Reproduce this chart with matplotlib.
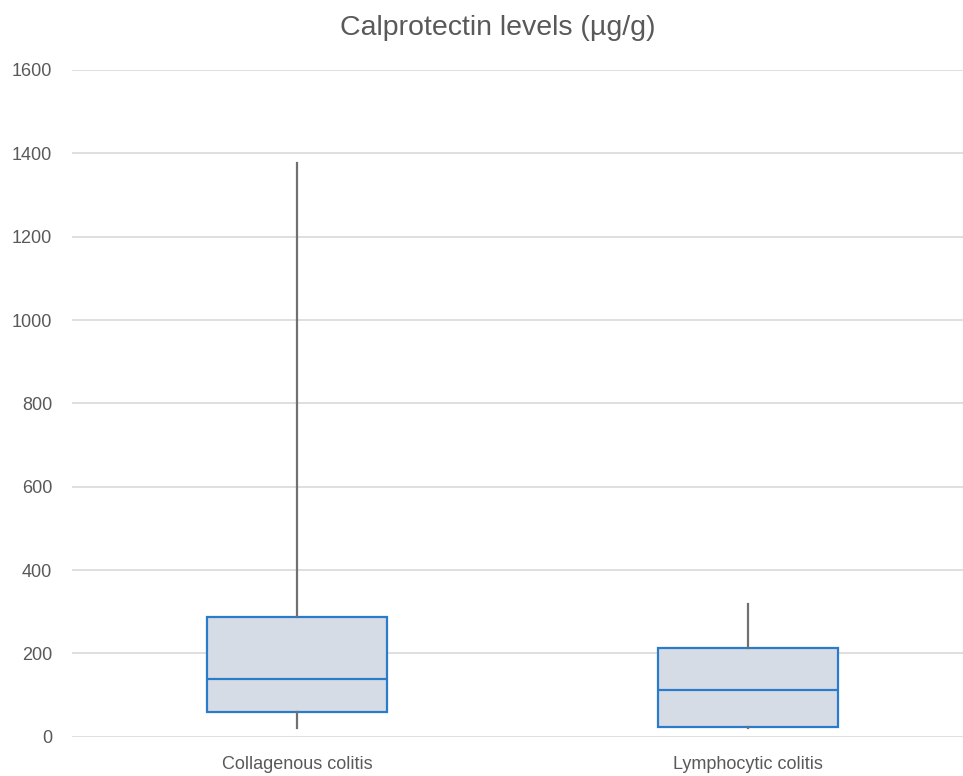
import matplotlib
matplotlib.use("Agg")
import matplotlib.pyplot as plt

# box plot summary values (µg/g)
categories = ["Collagenous colitis", "Lymphocytic colitis"]
whisker_low = [21, 22]
q1 = [60, 23]
median = [139, 112]
q3 = [287, 213]
whisker_high = [1376, 318]

plt.rcParams['font.family'] = ['Liberation Sans', 'DejaVu Sans']

W, H = 963, 776
fig = plt.figure(figsize=(W / 100, H / 100), dpi=100)

# plot area in pixels: left 71.5, y=0 at 736.7, y=1600 at 70
left_px, bottom_px, top_px = 71.5, 736.7, 70.0
ax = fig.add_axes([left_px / W, (H - bottom_px) / H,
                   (W - left_px) / W, (bottom_px - top_px) / H])

stats = []
for i in range(len(categories)):
    stats.append({
        'label': categories[i],
        'whislo': whisker_low[i],
        'q1': q1[i],
        'med': median[i],
        'q3': q3[i],
        'whishi': whisker_high[i],
        'fliers': [],
    })

box_edge = '#2B7BCB'
ax.bxp(stats, positions=[1, 2], widths=0.4, patch_artist=True,
       showcaps=False, showfliers=False,
       boxprops=dict(facecolor='#D6DCE5', edgecolor=box_edge, linewidth=1.6),
       medianprops=dict(color=box_edge, linewidth=1.6),
       whiskerprops=dict(color='#707070', linewidth=1.6),
       zorder=3)

ax.set_xlim(0.5, 0.5 + (W - left_px) / 451.0)
ax.set_ylim(0, 1600)
ax.set_yticks(range(0, 1601, 200))
ax.yaxis.grid(True, color='#D9D9D9', linewidth=1.2, zorder=0)
ax.set_axisbelow(True)
for s in ax.spines.values():
    s.set_visible(False)
ax.tick_params(axis='both', length=0, labelsize=13, colors='#595959')
ax.tick_params(axis='y', pad=14)
ax.tick_params(axis='x', pad=14)
ax.set_xticks([1, 2])
ax.set_xticklabels(categories)

fig.text(498 / W, 1 - 28 / H, "Calprotectin levels (µg/g)", ha='center', va='center',
         fontsize=20.5, color='#595959')

fig.savefig('out.png', dpi=100)
